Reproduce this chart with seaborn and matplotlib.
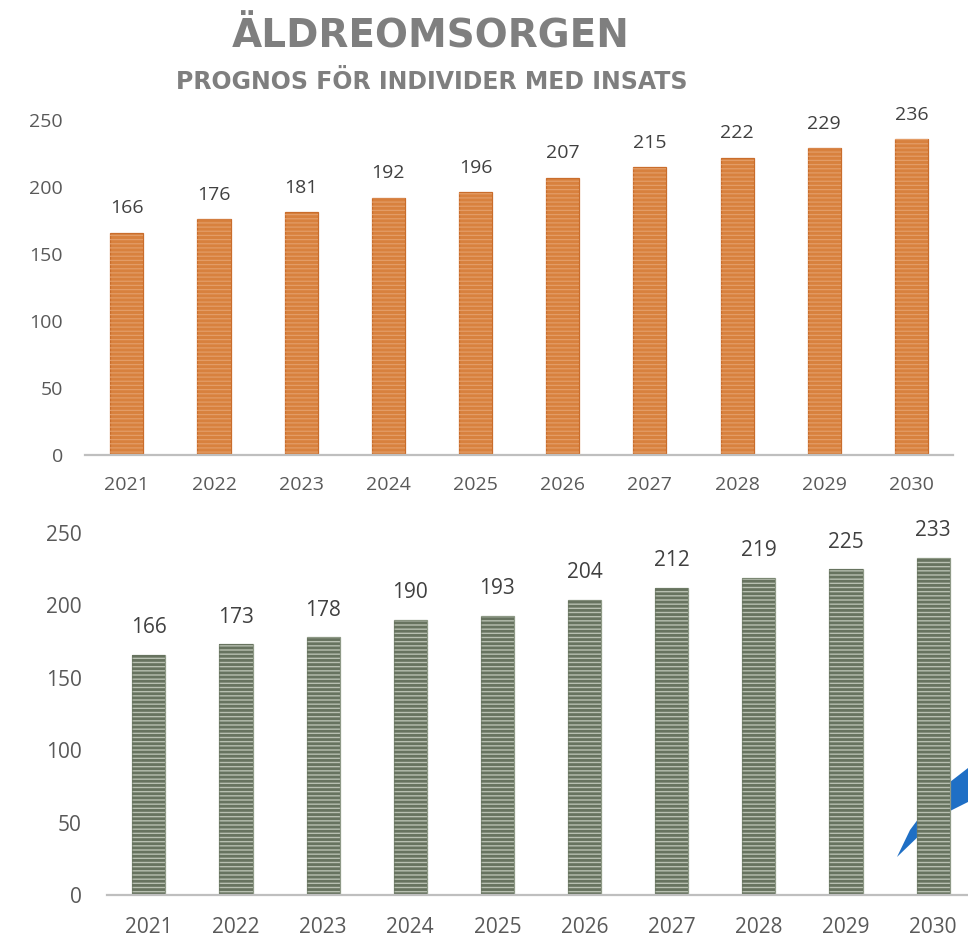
import matplotlib
matplotlib.use("Agg")
import matplotlib.pyplot as plt
import seaborn as sns
import pandas as pd
from matplotlib.patches import Polygon

years = ["2021", "2022", "2023", "2024", "2025", "2026", "2027", "2028", "2029", "2030"]
top_values = [166, 176, 181, 192, 196, 207, 215, 222, 229, 236]
bottom_values = [166, 173, 178, 190, 193, 204, 212, 219, 225, 233]
y_ticks = [0, 50, 100, 150, 200, 250]
title = "ÄLDREOMSORGEN"
subtitle = "PROGNOS FÖR INDIVIDER MED INSATS"

sns.set_theme(style="white")
plt.rcParams["font.family"] = ["Open Sans", "DejaVu Sans"]

df_top = pd.DataFrame({"year": years, "value": top_values})
df_bot = pd.DataFrame({"year": years, "value": bottom_values})

fig = plt.figure(figsize=(9.68, 9.38), dpi=100)

# partial blue logo in the lower right corner (background decoration)
W, H = 968.0, 938.0
logo_px = [(897, 857), (910, 830), (930, 803), (950, 782), (968, 768),
           (968, 802), (948, 812), (925, 830)]
fig.patches.append(Polygon([(x / W, 1 - y / H) for x, y in logo_px], closed=True,
                           transform=fig.transFigure, facecolor="#1F6FC5",
                           edgecolor="none", zorder=-5))

ax1 = fig.add_axes([0.0878, 0.515, 0.897, 0.357])
ax2 = fig.add_axes([0.1105, 0.0458, 0.8967, 0.386])
ax1.set_zorder(2)
ax2.set_zorder(2)


def draw(ax, df, fill, edge, stripe, lw_hatch, tick_size, label_size, ypad, xpad, lpad):
    with plt.rc_context({"hatch.linewidth": lw_hatch}):
        sns.barplot(data=df, x="year", y="value", ax=ax, color=fill, width=0.38,
                    saturation=1, edgecolor=edge, linewidth=0.9)
        nbase = len(ax.patches)
        sns.barplot(data=df, x="year", y="value", ax=ax, color="none", width=0.38,
                    saturation=1, fill=False, linewidth=0)
        for p in ax.patches[nbase:]:
            p.set_hatch("----")
            p.set_edgecolor(stripe)
            p.set_linewidth(0)
            if hasattr(p, "set_hatch_linewidth"):
                p.set_hatch_linewidth(lw_hatch)
    ax.bar_label(ax.containers[0], labels=[str(v) for v in df["value"]],
                 padding=lpad, fontsize=label_size, color="#404040")
    ax.set_ylim(0, 250)
    ax.set_xlim(-0.48, 9.48)
    ax.set_yticks(y_ticks)
    ax.set_xlabel("")
    ax.set_ylabel("")
    for s in ["top", "left", "right"]:
        ax.spines[s].set_visible(False)
    ax.spines["bottom"].set_color("#BFBFBF")
    ax.spines["bottom"].set_linewidth(1.6)
    ax.tick_params(axis="y", length=0, pad=ypad, labelsize=tick_size, labelcolor="#595959")
    ax.tick_params(axis="x", length=0, pad=xpad, labelsize=tick_size, labelcolor="#595959")
    ax.grid(False)
    ax.set_facecolor("none")


draw(ax1, df_top, "#D8813E", "#C96D2C", "#E39C66", 0.9, 14, 14, 16, 15, 11)
draw(ax2, df_bot, "#B8C0B1", "#8E9986", "#67735F", 2.0, 15, 15, 18, 16, 12)

fig.text(0.445, 1 - 37 / 938, title, ha="center", va="center", fontsize=28,
         fontweight="bold", color="#7F7F7F", family=["DejaVu Sans"])
fig.text(0.446, 1 - 82 / 938, subtitle, ha="center", va="center", fontsize=17,
         fontweight="bold", color="#7F7F7F", family=["DejaVu Sans"])

fig.savefig("out.png", dpi=100)
